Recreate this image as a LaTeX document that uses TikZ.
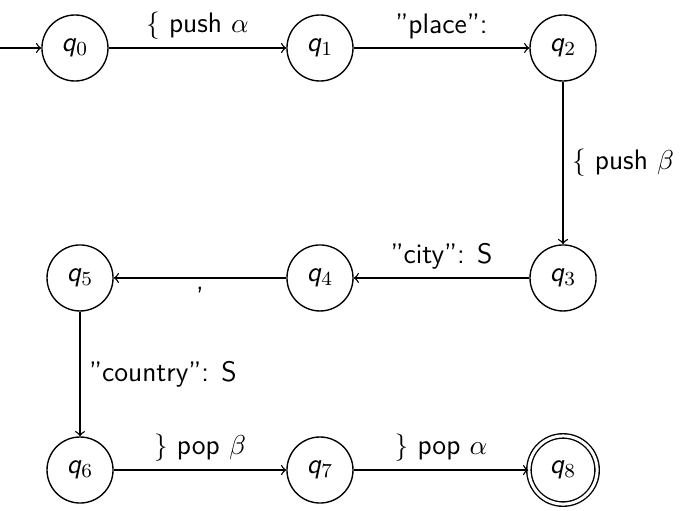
\documentclass[tikz,border=0pt]{standalone}
\usepackage{amsmath,amssymb}
\usetikzlibrary{arrows}

\begin{document}
\begin{tikzpicture}[
  font=\sffamily\fontsize{11.3}{13.5}\selectfont,
  line width=0.55pt,
  state/.style={circle, draw, minimum size=0.93cm, inner sep=0pt},
  final/.style={state, double, double distance=1.2pt, minimum size=0.96cm},
  trans/.style={draw, ->}
]
  \useasboundingbox (0,0) rectangle (9.62,-7.197);
  % states
  \node[state] (q0) at (1.056,-0.676) {\textit{q}$_0$};
  \node[state] (q1) at (4.507,-0.676) {\textit{q}$_1$};
  \node[state] (q2) at (7.930,-0.676) {\textit{q}$_2$};
  \node[state] (q3) at (7.930,-3.915) {\textit{q}$_3$};
  \node[state] (q4) at (4.507,-3.915) {\textit{q}$_4$};
  \node[state] (q5) at (1.127,-3.915) {\textit{q}$_5$};
  \node[state] (q6) at (1.127,-6.620) {\textit{q}$_6$};
  \node[state] (q7) at (4.507,-6.620) {\textit{q}$_7$};
  \node[final] (q8) at (7.930,-6.620) {\textit{q}$_8$};
  \coordinate (start) at (0,-0.676);

  % transitions
  \draw[trans] (start) -- (q0);
  \draw[trans] (q0) -- node[above] {$\{$ push $\alpha$} (q1);
  \draw[trans] (q1) -- node[above] {''place'':} (q2);
  \draw[trans] (q2) -- node[right] {$\{$ push $\beta$} (q3);
  \draw[trans] (q3) -- node[above] {''city'': S} (q4);
  \draw[trans] (q4) -- node[below] {,} (q5);
  \draw[trans] (q5) -- node[right] {''country'': S} (q6);
  \draw[trans] (q6) -- node[above] {$\}$ pop $\beta$} (q7);
  \draw[trans] (q7) -- node[above] {$\}$ pop $\alpha$} (q8);
\end{tikzpicture}
\end{document}
